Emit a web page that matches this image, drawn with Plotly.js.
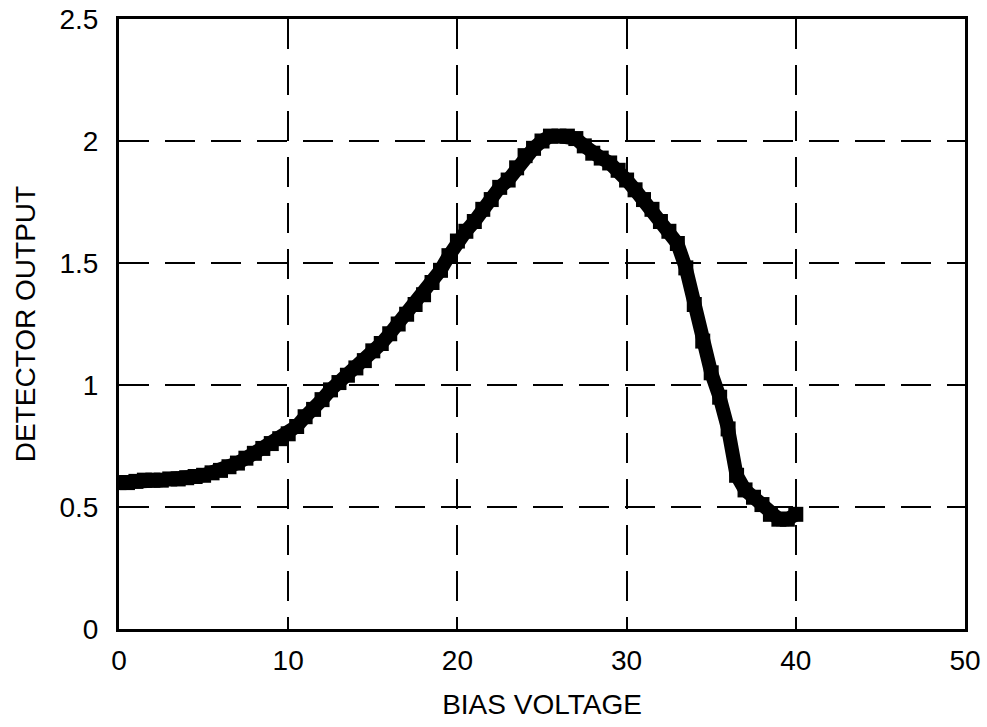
<!DOCTYPE html>
<html>
<head>
<meta charset="utf-8">
<script src="https://cdn.plot.ly/plotly-3.0.1.min.js"></script>
<style>html,body{margin:0;padding:0;background:#fff;}#chart{width:987px;height:727px;}</style>
</head>
<body>
<div id="chart"></div>
<script>
const biasVoltage = [0,0.5,1,1.5,2,2.5,3,3.5,4,4.5,5,5.5,6,6.5,7,7.5,8,8.5,9,9.5,10,10.5,11,11.5,12,12.5,13,13.5,14,14.5,15,15.5,16,16.5,17,17.5,18,18.5,19,19.5,20,20.5,21,21.5,22,22.5,23,23.5,24,24.5,25,25.5,26,26.5,27,27.5,28,28.5,29,29.5,30,30.5,31,31.5,32,32.5,33,33.5,34,34.5,35,35.5,36,36.5,37,37.5,38,38.5,39,39.5,40];
const detectorOutput = [0.60,0.60,0.605,0.61,0.61,0.61,0.615,0.615,0.62,0.625,0.63,0.64,0.65,0.665,0.68,0.70,0.72,0.74,0.76,0.78,0.80,0.83,0.87,0.90,0.94,0.98,1.01,1.04,1.07,1.10,1.14,1.17,1.21,1.25,1.29,1.33,1.37,1.42,1.47,1.53,1.59,1.63,1.67,1.72,1.76,1.81,1.84,1.89,1.94,1.97,2.00,2.02,2.02,2.02,2.01,1.98,1.95,1.93,1.91,1.88,1.84,1.80,1.76,1.72,1.67,1.63,1.58,1.48,1.33,1.18,1.05,0.95,0.82,0.63,0.57,0.54,0.51,0.47,0.45,0.45,0.47];
const xTicks = [0,10,20,30,40,50];
const yTicks = [0,0.5,1,1.5,2,2.5];
const yTickText = ['0','0.5','1','1.5','2','2.5'];

const font = {family: '"Liberation Sans", Arial, sans-serif', size: 28, color: '#000'};

const trace = {
  x: biasVoltage, y: detectorOutput,
  mode: 'lines+markers', type: 'scatter',
  line: {color: '#000', width: 14},
  marker: {symbol: 'square', size: 15, color: '#000'},
  hoverinfo: 'skip'
};

const axisCommon = {
  showline: true, mirror: true, linecolor: '#000', linewidth: 3,
  showgrid: true, gridcolor: '#000', gridwidth: 2, griddash: '30px,16px',
  zeroline: false, ticks: '', tickfont: font, fixedrange: true
};

const layout = {
  width: 987, height: 727,
  margin: {l: 119, r: 22, t: 19, b: 98},
  paper_bgcolor: '#fff', plot_bgcolor: '#fff',
  showlegend: false,
  font: font,
  xaxis: Object.assign({}, axisCommon, {
    range: [0, 50], tickvals: xTicks, ticklabelstandoff: 4,
    title: {text: 'BIAS VOLTAGE', font: font, standoff: 20}
  }),
  yaxis: Object.assign({}, axisCommon, {
    range: [0, 2.5], tickvals: yTicks, ticktext: yTickText, ticklabelstandoff: 12,
    title: {text: 'DETECTOR OUTPUT', font: font, standoff: 16}
  })
};

Plotly.newPlot('chart', [trace], layout, {staticPlot: true, displayModeBar: false});
</script>
</body>
</html>
